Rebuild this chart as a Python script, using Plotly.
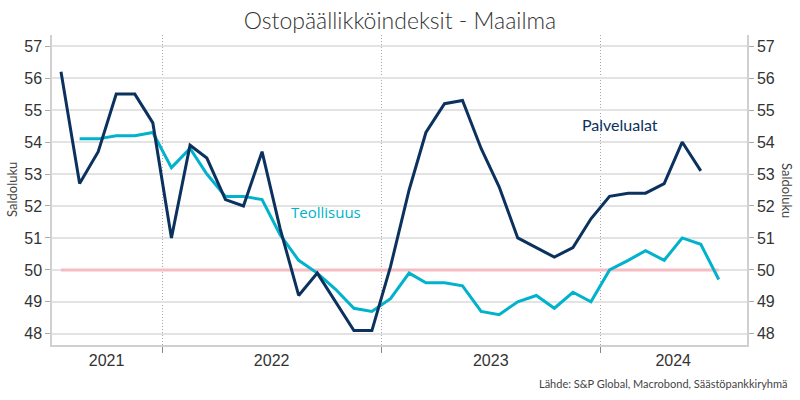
import pandas as pd
import plotly.graph_objects as go

# Months (plotted at mid-month)
services_months = pd.date_range("2021-07-01", "2024-06-01", freq="MS") + pd.Timedelta(days=15)
manufacturing_months = pd.date_range("2021-08-01", "2024-07-01", freq="MS") + pd.Timedelta(days=15)

palvelualat = [
    56.2, 52.7, 53.7, 55.5, 55.5, 54.6,              # 2021 Jul-Dec
    51.0, 53.9, 53.5, 52.2, 52.0, 53.7,              # 2022 Jan-Jun
    51.3, 49.2, 49.9, 49.0, 48.1, 48.1,              # 2022 Jul-Dec
    50.1, 52.5, 54.3, 55.2, 55.3, 53.8,              # 2023 Jan-Jun
    52.6, 51.0, 50.7, 50.4, 50.7, 51.6,              # 2023 Jul-Dec
    52.3, 52.4, 52.4, 52.7, 54.0, 53.1,              # 2024 Jan-Jun
]
teollisuus = [
    54.1, 54.1, 54.2, 54.2, 54.3,                    # 2021 Aug-Dec
    53.2, 53.8, 53.0, 52.3, 52.3, 52.2,              # 2022 Jan-Jun
    51.1, 50.3, 49.9, 49.4, 48.8, 48.7,              # 2022 Jul-Dec
    49.1, 49.9, 49.6, 49.6, 49.5, 48.7,              # 2023 Jan-Jun
    48.6, 49.0, 49.2, 48.8, 49.3, 49.0,              # 2023 Jul-Dec
    50.0, 50.3, 50.6, 50.3, 51.0, 50.8, 49.7,        # 2024 Jan-Jul
]
reference_level = 50
reference_dates = [services_months[0], manufacturing_months[-1]]

year_labels = ["2021", "2022", "2023", "2024"]
year_label_positions = ["2021-09-30", "2022-07-02", "2023-07-02", "2024-05-01"]
year_boundaries = ["2022-01-01", "2023-01-01", "2024-01-01"]
y_ticks = [48, 49, 50, 51, 52, 53, 54, 55, 56, 57]

NAVY = "#0b325e"
CYAN = "#00b2cb"
PINK = "#f5bcc2"
GRID = "#e3e3e3"
AXIS = "#d0d0d0"
TEXT = "#333333"

fig = go.Figure()
fig.add_trace(go.Scatter(x=reference_dates, y=[reference_level] * 2, mode="lines",
                         line=dict(color=PINK, width=3), hoverinfo="skip", showlegend=False))
fig.add_trace(go.Scatter(x=manufacturing_months, y=teollisuus, mode="lines", name="Teollisuus",
                         line=dict(color=CYAN, width=3), showlegend=False))
fig.add_trace(go.Scatter(x=services_months, y=palvelualat, mode="lines", name="Palvelualat",
                         line=dict(color=NAVY, width=3), showlegend=False))
fig.add_trace(go.Scatter(x=services_months, y=palvelualat, yaxis="y2", mode="lines",
                         line=dict(color="rgba(0,0,0,0)", width=0), hoverinfo="skip", showlegend=False))

yrange = [47.65, 57.35]
tickfont = dict(family="Liberation Sans, Arial, sans-serif", size=16, color=TEXT)
PW, PH = 695, 310

fig.update_layout(
    width=800, height=400,
    margin=dict(l=52, r=53, t=35, b=55, autoexpand=False),
    paper_bgcolor="white", plot_bgcolor="white",
    title=dict(text="Ostopäällikköindeksit - Maailma", x=0.5, xanchor="center",
               y=0.948, yanchor="middle", yref="container",
               font=dict(family="Lato, sans-serif", size=23, color=TEXT, weight=300)),
    xaxis=dict(
        type="date", range=["2021-07-01", "2024-09-01"], automargin=False,
        tickmode="array", tickvals=year_label_positions, ticktext=year_labels,
        ticks="", showgrid=False, tickfont=tickfont,
        showline=True, linecolor=AXIS, linewidth=1.5,
        minor=dict(tickmode="array", tickvals=year_boundaries, ticks="outside",
                   ticklen=6, tickcolor="#888888", tickwidth=1,
                   showgrid=True, gridcolor="#a8a8a8", griddash="1px,2px", gridwidth=1),
        zeroline=False,
    ),
    yaxis=dict(
        range=yrange, tickmode="array", tickvals=y_ticks, tickfont=tickfont, automargin=False,
        ticks="outside", ticklen=5, tickcolor="#aaaaaa",
        showgrid=True, gridcolor=GRID, gridwidth=1.5,
        showline=True, linecolor=AXIS, linewidth=1.5, zeroline=False,
    ),
    yaxis2=dict(
        range=yrange, overlaying="y", side="right", tickmode="array", tickvals=y_ticks,
        tickfont=tickfont, ticks="outside", ticklen=5, tickcolor="#aaaaaa", automargin=False,
        showgrid=False, showline=True, linecolor=AXIS, linewidth=1.5, zeroline=False,
    ),
    annotations=[
        dict(text="Palvelualat", xref="paper", yref="paper", x=(620 - 52) / PW, y=(345 - 124) / PH,
             xanchor="center", yanchor="middle",
             showarrow=False, font=dict(family="Lato, sans-serif", size=16, color=NAVY)),
        dict(text="Teollisuus", xref="paper", yref="paper", x=(326 - 52) / PW, y=(345 - 212) / PH,
             xanchor="center", yanchor="middle",
             showarrow=False, font=dict(family="Open Sans, sans-serif", size=15, color=CYAN)),
        dict(text="Saldoluku", xref="paper", yref="paper", x=(12 - 52) / PW, y=(345 - 190) / PH,
             xanchor="center", yanchor="middle", textangle=-90, showarrow=False,
             font=dict(family="Lato, sans-serif", size=13, color="#444444")),
        dict(text="Saldoluku", xref="paper", yref="paper", x=(787 - 52) / PW, y=(345 - 190) / PH,
             xanchor="center", yanchor="middle", textangle=90, showarrow=False,
             font=dict(family="Lato, sans-serif", size=13, color="#444444")),
        dict(text="Lähde: S&P Global, Macrobond, Säästöpankkiryhmä", xref="paper", yref="paper",
             x=(790 - 52) / PW, y=(345 - 383) / PH, xanchor="right", yanchor="middle", showarrow=False,
             font=dict(family="Lato, sans-serif", size=11, color="#444444")),
    ],
)

fig.write_html("out.html", config={"displayModeBar": False},
               post_script="document.body.style.margin='0';document.body.style.overflow='hidden';")
